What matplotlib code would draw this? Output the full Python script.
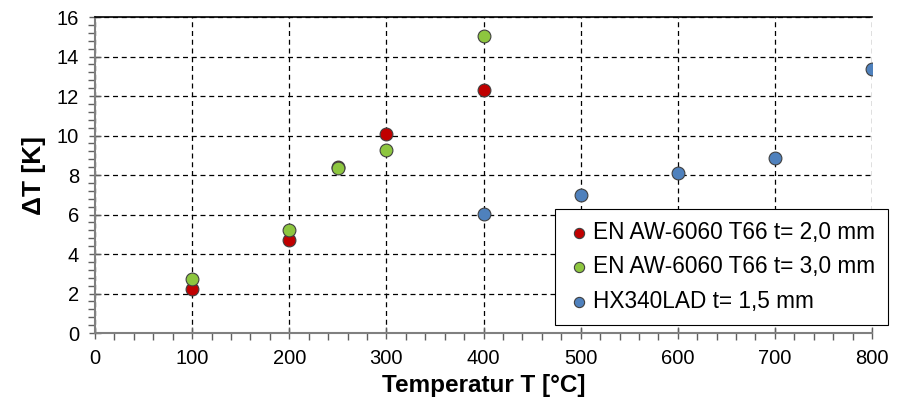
import matplotlib
matplotlib.use("Agg")
import matplotlib.pyplot as plt
from matplotlib.ticker import MultipleLocator

plt.rcParams['font.family'] = ['Liberation Sans', 'DejaVu Sans']

x_al2 = [100, 200, 250, 300, 400]
y_al2 = [2.23, 4.71, 8.4, 10.08, 12.3]
x_al3 = [100, 200, 250, 300, 400]
y_al3 = [2.73, 5.2, 8.35, 9.27, 15.04]
x_hx = [400, 500, 600, 700, 800]
y_hx = [6.03, 6.99, 8.1, 8.86, 13.37]

labels = ['EN AW-6060 T66 t= 2,0 mm', 'EN AW-6060 T66 t= 3,0 mm', 'HX340LAD t= 1,5 mm']
colors = ['#C00000', '#8DC63F', '#4F81BD']

fig = plt.figure(figsize=(8.99, 4.07), dpi=100)
ax = fig.add_axes([0.1057, 0.1818, 0.9700 - 0.1057, 0.9582 - 0.1818])

for xs, ys, lab, c in zip([x_al2, x_al3, x_hx], [y_al2, y_al3, y_hx], labels, colors):
    ax.scatter(xs, ys, s=85, color=c, edgecolor='#404040', linewidth=0.8, label=lab, zorder=3)

ax.set_xlim(0, 800)
ax.set_ylim(0, 16)
ax.xaxis.set_major_locator(MultipleLocator(100))
ax.xaxis.set_minor_locator(MultipleLocator(20))
ax.yaxis.set_major_locator(MultipleLocator(2))
ax.yaxis.set_minor_locator(MultipleLocator(0.4))
ax.grid(True, which='major', color='black', linestyle=(0, (4, 3)), linewidth=0.9)
ax.set_axisbelow(True)

for s in ['left', 'bottom']:
    ax.spines[s].set_color('#808080')
    ax.spines[s].set_linewidth(1.5)
ax.spines['top'].set_color('black')
ax.spines['top'].set_linewidth(1.2)
ax.spines['right'].set_visible(False)

ax.tick_params(which='major', direction='inout', length=9, width=1, color='#606060', labelsize=14.5, pad=7)
ax.tick_params(which='minor', direction='out', length=5, width=1, color='#606060')
ax.tick_params(top=False, right=False, which='both')

ax.set_xlabel('Temperatur T [°C]', fontsize=17.5, fontweight='bold', labelpad=4)
ax.set_ylabel('ΔT [K]', fontsize=19, fontweight='bold', labelpad=8)

leg = ax.legend(loc='lower right', bbox_to_anchor=(1.0206, 0.025), fontsize=16.3, frameon=True, fancybox=False,
                edgecolor='black', framealpha=1, handletextpad=0.15, borderpad=0.55, labelspacing=0.5,
                markerscale=0.8, handlelength=1.0, borderaxespad=0)
leg.get_frame().set_linewidth(0.8)

fig.savefig('out.png', dpi=100)
